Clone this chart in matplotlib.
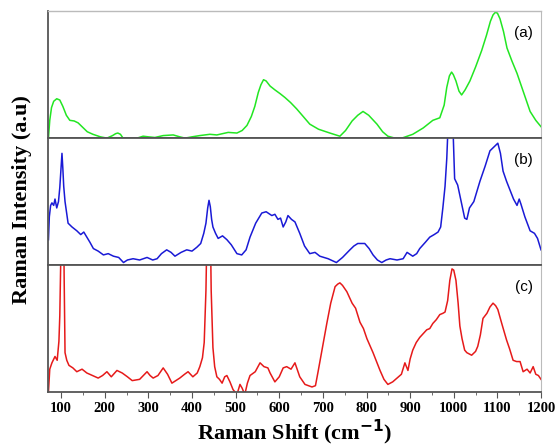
import matplotlib.pyplot as plt
from matplotlib.ticker import MultipleLocator

# spectrum (a) - green
shift_a = [71, 74, 78, 83, 90, 97, 104, 112, 120, 130, 139, 148, 160, 173, 190, 205, 218, 225,
           230, 236, 242, 250, 262, 274, 288, 300, 315, 334, 357, 372, 384, 400, 418, 441, 457,
           470, 483, 503, 515, 526, 536, 544, 552, 558, 564, 570, 579, 590, 602, 613, 626, 640,
           655, 670, 690, 716, 739, 752, 767, 780, 792, 805, 824, 837, 849, 865, 881, 906, 930,
           952, 968, 978, 984, 990, 995, 999, 1005, 1012, 1018, 1026, 1037, 1050, 1064, 1075,
           1084, 1090, 1095, 1100, 1106, 1114, 1122, 1133, 1145, 1160, 1175, 1188, 1200]
int_a = [0.0, 0.14, 0.24, 0.29, 0.31, 0.30, 0.25, 0.18, 0.14, 0.135, 0.12, 0.09, 0.05, 0.03,
         0.01, 0.0, 0.02, 0.035, 0.04, 0.03, 0.0, -0.02, -0.02, 0.0, 0.015, 0.01, 0.005, 0.02,
         0.025, 0.01, 0.0, 0.01, 0.02, 0.03, 0.025, 0.035, 0.045, 0.04, 0.06, 0.1, 0.17, 0.25,
         0.36, 0.42, 0.46, 0.45, 0.41, 0.38, 0.35, 0.32, 0.28, 0.23, 0.17, 0.11, 0.07, 0.04,
         0.015, 0.06, 0.135, 0.18, 0.21, 0.18, 0.11, 0.05, 0.015, 0.0, 0.0, 0.03, 0.08, 0.14,
         0.16, 0.26, 0.40, 0.49, 0.52, 0.50, 0.45, 0.37, 0.34, 0.38, 0.45, 0.56, 0.69, 0.81,
         0.92, 0.97, 0.99, 0.985, 0.94, 0.84, 0.71, 0.61, 0.51, 0.36, 0.21, 0.14, 0.09]

# spectrum (b) - blue
shift_b = [71, 73, 76, 79, 83, 86, 90, 94, 97, 100, 102, 104, 106, 109, 113, 116, 125, 136, 145,
           152, 159, 166, 174, 185, 197, 208, 220, 232, 243, 252, 265, 280, 297, 310, 320, 330,
           342, 352, 361, 375, 388, 400, 411, 420, 427, 432, 436, 439, 442, 445, 448, 454, 460,
           470, 480, 490, 503, 514, 524, 533, 546, 560, 570, 583, 590, 597, 603, 609, 615, 620,
           628, 636, 647, 658, 670, 682, 693, 712, 731, 745, 762, 771, 780, 796, 806, 815, 825,
           835, 845, 854, 870, 884, 893, 906, 915, 922, 935, 945, 955, 964, 970, 975, 980, 984,
           987, 990, 996, 999, 1002, 1009, 1017, 1025, 1030, 1036, 1046, 1060, 1072, 1083, 1092,
           1101, 1107, 1113, 1121, 1129, 1137, 1145, 1150, 1154, 1163, 1175, 1185, 1192, 1200]
int_b = [0.2, 0.38, 0.47, 0.49, 0.47, 0.52, 0.45, 0.5, 0.61, 0.78, 0.88, 0.76, 0.62, 0.5, 0.4,
         0.33, 0.3, 0.27, 0.24, 0.26, 0.22, 0.18, 0.13, 0.11, 0.08, 0.09, 0.07, 0.06, 0.02, 0.04,
         0.05, 0.04, 0.06, 0.04, 0.05, 0.09, 0.12, 0.1, 0.07, 0.1, 0.12, 0.11, 0.14, 0.17, 0.25,
         0.33, 0.45, 0.51, 0.46, 0.36, 0.30, 0.25, 0.21, 0.23, 0.2, 0.16, 0.09, 0.08, 0.12, 0.22,
         0.33, 0.41, 0.42, 0.39, 0.40, 0.36, 0.37, 0.30, 0.34, 0.39, 0.36, 0.34, 0.25, 0.15,
         0.09, 0.1, 0.07, 0.05, 0.02, 0.06, 0.12, 0.15, 0.17, 0.17, 0.13, 0.08, 0.04, 0.02, 0.04,
         0.05, 0.04, 0.05, 0.1, 0.07, 0.09, 0.13, 0.18, 0.22, 0.24, 0.26, 0.3, 0.45, 0.62, 0.84,
         1.1, 1.4, 1.4, 1.0, 0.68, 0.63, 0.5, 0.37, 0.36, 0.45, 0.5, 0.66, 0.78, 0.90, 0.93,
         0.96, 0.88, 0.74, 0.66, 0.59, 0.52, 0.47, 0.52, 0.48, 0.38, 0.27, 0.25, 0.21, 0.12]

# spectrum (c) - red
shift_c = [71, 74, 79, 86, 91, 95, 97, 99, 101, 105, 107, 109, 113, 118, 127, 136, 148, 159, 172,
           185, 195, 205, 215, 228, 240, 252, 263, 280, 297, 304, 311, 322, 334, 344, 354, 363,
           372, 383, 391, 402, 412, 418, 424, 428, 432, 436, 441, 444, 448, 452, 457, 463, 469,
           475, 480, 487, 494, 503, 510, 515, 521, 527, 533, 545, 556, 565, 574, 579, 590, 600,
           609, 617, 627, 636, 647, 659, 675, 683, 689, 698, 709, 718, 728, 734, 739, 745, 755,
           767, 775, 785, 793, 801, 815, 823, 831, 840, 849, 860, 870, 880, 888, 895, 900, 906,
           914, 922, 930, 938, 945, 952, 960, 968, 975, 980, 986, 991, 996, 1000, 1005, 1010,
           1014, 1019, 1025, 1030, 1041, 1050, 1055, 1061, 1067, 1076, 1083, 1090, 1096, 1101,
           1110, 1121, 1128, 1136, 1144, 1152, 1159, 1168, 1175, 1182, 1188, 1194, 1200]
int_c = [0.0, 0.18, 0.23, 0.28, 0.25, 0.4, 0.6, 1.0, 1.6, 1.6, 0.9, 0.31, 0.25, 0.21, 0.19,
         0.16, 0.18, 0.15, 0.13, 0.11, 0.13, 0.16, 0.12, 0.17, 0.15, 0.12, 0.09, 0.1, 0.16, 0.13,
         0.11, 0.13, 0.19, 0.14, 0.07, 0.09, 0.11, 0.14, 0.16, 0.12, 0.15, 0.2, 0.27, 0.39,
         0.8, 1.6, 1.6, 0.8, 0.35, 0.2, 0.12, 0.1, 0.07, 0.12, 0.13, 0.08, 0.02, -0.02, 0.06,
         0.03, -0.02, 0.07, 0.13, 0.16, 0.23, 0.2, 0.19, 0.15, 0.08, 0.12, 0.19, 0.2, 0.18, 0.23,
         0.12, 0.06, 0.04, 0.05, 0.16, 0.33, 0.54, 0.7, 0.83, 0.85, 0.86, 0.84, 0.79, 0.70,
         0.66, 0.55, 0.5, 0.42, 0.31, 0.24, 0.17, 0.1, 0.06, 0.08, 0.11, 0.14, 0.23, 0.17, 0.26,
         0.33, 0.39, 0.43, 0.46, 0.49, 0.5, 0.54, 0.57, 0.61, 0.62, 0.63, 0.72, 0.88, 0.97,
         0.96, 0.88, 0.7, 0.52, 0.42, 0.33, 0.31, 0.29, 0.32, 0.36, 0.45, 0.58, 0.62, 0.67,
         0.70, 0.68, 0.65, 0.54, 0.41, 0.34, 0.25, 0.24, 0.24, 0.16, 0.18, 0.15, 0.2, 0.14,
         0.13, 0.1]

panels = [
    (shift_a, int_a, "#22e622", "(a)"),
    (shift_b, int_b, "#1a1ad6", "(b)"),
    (shift_c, int_c, "#e61a1a", "(c)"),
]

serif = "Liberation Serif"

fig = plt.figure(figsize=(5.57, 4.46), dpi=100)
fig.subplots_adjust(left=0.0862, right=0.9713, bottom=0.121, top=0.975, hspace=0)
axes = fig.subplots(3, 1, sharex=True)

for i, (ax, (xs, ys, col, lab)) in enumerate(zip(axes, panels)):
    ax.plot(xs, ys, color=col, lw=1.1)
    ax.set_xlim(70, 1200)
    ax.set_ylim(0, 1.0)
    ax.set_yticks([])
    ax.text(0.965, 0.83, lab, transform=ax.transAxes, ha="center", va="center",
            fontsize=11, family="Liberation Sans")
    for s in ["left", "bottom"]:
        ax.spines[s].set_color("#555555")
        ax.spines[s].set_linewidth(1.3)
    ax.spines["right"].set_color("#bbbbbb")
    ax.spines["top"].set_color("#bbbbbb" if i == 0 else "#555555")
    ax.spines["top"].set_linewidth(1.0 if i == 0 else 1.3)
    ax.tick_params(axis="x", which="both", bottom=(i == 2), labelbottom=(i == 2))

ax = axes[2]
ax.xaxis.set_major_locator(MultipleLocator(100))
ax.xaxis.set_minor_locator(MultipleLocator(50))
ax.tick_params(axis="x", which="major", direction="out", length=4, color="#555555", pad=3)
ax.tick_params(axis="x", which="minor", direction="out", length=2.5, color="#555555")
for t in ax.get_xticklabels():
    t.set_fontfamily(serif)
    t.set_fontweight("bold")
    t.set_fontsize(10.5)

ax.set_xlabel("Raman Shift (cm$^{\\mathbf{-1}}$)", fontsize=16, fontweight="bold",
              family=serif, labelpad=2)
fig.text(0.04, 0.553, "Raman Intensity (a.u)", rotation=90, ha="center", va="center",
         fontsize=16, fontweight="bold", family=serif)

fig.savefig("out.png", dpi=100)
